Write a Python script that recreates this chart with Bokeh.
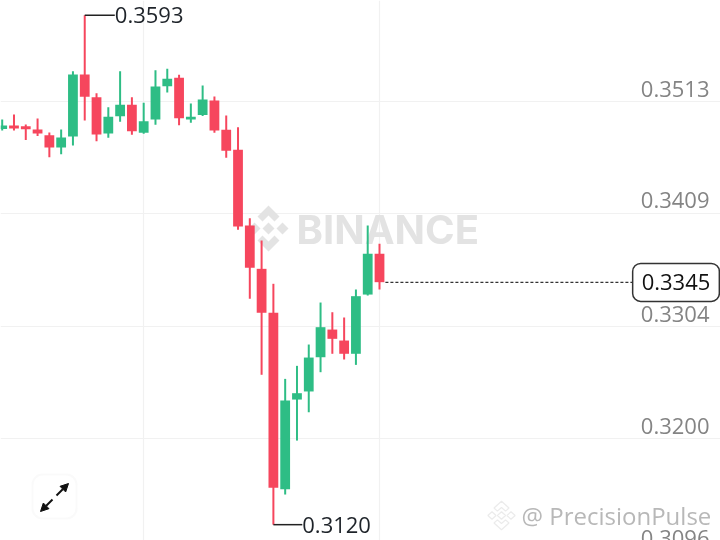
from bokeh.plotting import figure
from bokeh.models import (ColumnDataSource, FixedTicker, Label, BoxAnnotation, Arrow, NormalHead,
                          PolyAnnotation, Range1d)
from bokeh.core.properties import value
from bokeh.embed import file_html
from bokeh.resources import INLINE

opens = [.34875,.34907,.34901,.34870,.34817,.34703,.34805,.35381,.35170,.34833,.34994,.35099,.34839,.34963,.35272,.35350,.34963,.35005,.35139,.34867,.34681,.33978,.33576,.33168,.31530,.32362,.32437,.32755,.33012,.32910,.32787,.33337,.33715]
closes = [.34907,.34879,.34873,.34833,.34703,.34796,.35381,.35174,.34824,.34988,.35099,.34854,.34947,.35269,.35341,.34975,.34988,.35149,.34861,.34672,.33970,.33585,.33168,.31542,.32353,.32421,.32752,.33034,.32926,.32787,.33322,.33715,.33452]
highs = [.34963,.35009,.34916,.34972,.34842,.34870,.35411,.35930,.35207,.35077,.35411,.35170,.35118,.35421,.35434,.35378,.35111,.35279,.35176,.35000,.34891,.34046,.33839,.33437,.32554,.32675,.32873,.33263,.33173,.33124,.33384,.33978,.33808]
lows = [.34861,.34861,.34772,.34810,.34613,.34641,.34721,.34954,.34761,.34793,.34942,.34821,.34830,.34914,.35214,.34910,.34932,.34995,.34839,.34607,.33938,.33298,.32592,.31200,.31480,.31981,.32244,.32616,.32787,.32734,.32684,.33328,.33384]
tick_values = [.3513, .3409, .3304, .3200]
tick_labels = ["0.3513", "0.3409", "0.3304", "0.3200"]
vgrid_at = [12, 32]
last_price = .3345
hi_idx, hi_price, hi_label = 7, .3593, "0.3593"
lo_idx, lo_price, lo_label = 23, .3120, "0.3120"

GREEN, RED = "#2EBD85", "#F6465D"
FONT = "Open Sans"
W, H = 720, 540

p = figure(width=W, height=H, output_backend="svg", toolbar_location=None,
           x_range=Range1d(-0.144, 60.92), y_range=Range1d(.31053, .36068),
           min_border=0, background_fill_color="white", border_fill_color="white")
p.styles = {"position": "fixed", "left": "0", "top": "0"}
p.outline_line_color = None
p.xaxis.visible = False
p.yaxis.visible = False
p.ygrid.ticker = FixedTicker(ticks=tick_values + [.3096])
p.xgrid.ticker = FixedTicker(ticks=vgrid_at)
p.ygrid.grid_line_color = "#f1f1f1"
p.xgrid.grid_line_color = "#f1f1f1"
p.ygrid.grid_line_width = 1.2
p.xgrid.grid_line_width = 1.2

# logo shapes around a centre, half-width 20
logo = [
    ([0, 11, 6, 0, -6, -11], [-23, -12, -7, -13, -7, -12]),
    ([0, 11, 6, 0, -6, -11], [23, 12, 7, 13, 7, 12]),
    ([-20, -14, -8, -14], [0, -6, 0, 6]),
    ([8, 14, 20, 14], [0, -6, 0, 6]),
    ([0, 6, 0, -6], [-6, 0, 6, 0]),
]

# watermark, under the candles
for xs, ys in logo:
    p.add_layout(PolyAnnotation(xs=[268 + a for a in xs], ys=[228 + b for b in ys], xs_units="canvas",
                                ys_units="canvas", level="underlay",
                                fill_color="#e3e3e3", fill_alpha=1, line_color=None))
p.add_layout(Label(x=296, y=229, x_units="canvas", y_units="canvas", text="BINANCE", text_color="#e3e3e3",
                   text_font="Inter", text_font_style="bold", text_font_size="40px",
                   text_align="left", text_baseline="middle", level="underlay"))

idx = list(range(len(opens)))
colors = [GREEN if c >= o else RED for o, c in zip(opens, closes)]
src = ColumnDataSource(dict(x=idx, o=opens, c=closes, h=highs, l=lows, color=colors))
p.segment("x", "h", "x", "l", source=src, line_color="color", line_width=2)
p.vbar("x", 0.83, "o", "c", source=src, fill_color="color", line_color=None)

# tick labels
for v, t in zip(tick_values + [.3096], tick_labels + ["0.3096"]):
    p.add_layout(Label(x=709, y=v, x_units="canvas", y_units="data", y_offset=13, text=t, text_color="#848484",
                       text_font=FONT, text_font_size="22px", text_align="right", text_baseline="middle"))

# high / low leaders
p.segment([hi_idx], [hi_price], [hi_idx + 2.55], [hi_price], line_color="#222222", line_width=1.5)
p.segment([lo_idx], [lo_price], [lo_idx + 2.45], [lo_price], line_color="#222222", line_width=1.5)
p.text([hi_idx + 2.55], [hi_price], text=[hi_label], text_color="#1e2329", text_font=value(FONT),
       text_font_size="22px", text_align="left", text_baseline="middle")
p.text([lo_idx + 2.45], [lo_price], text=[lo_label], text_color="#1e2329", text_font=value(FONT),
       text_font_size="22px", text_align="left", text_baseline="middle")

# last price line and box
p.segment([32.5], [last_price], [53.45], [last_price], line_color="#333333", line_width=1.3, line_dash="3 2")
p.add_layout(Label(x=675.5, y=last_price, x_units="canvas", y_units="data", text="0.3345", text_color="#111111",
                   text_font=FONT, text_font_size="22px", text_align="center", text_baseline="middle",
                   background_fill_color="white", border_line_color="#333333", border_line_width=1.5,
                   border_radius=8, padding=(9, 11)))

# expand button
p.add_layout(BoxAnnotation(left=32, right=76, top=474, bottom=518, left_units="canvas", right_units="canvas",
                           top_units="canvas", bottom_units="canvas", fill_color="white", fill_alpha=1,
                           line_color="#ededed", line_width=2, border_radius=10, level="annotation"))
for (a, b, c, d) in [(56, 495, 68, 483), (52, 499, 40, 511)]:
    p.add_layout(Arrow(x_start=a, y_start=b, x_end=c, y_end=d, start_units="canvas", end_units="canvas",
                       line_color="#111111", line_width=2,
                       end=NormalHead(size=8, fill_color="#111111", line_color="#111111")))

# bottom watermark
for xs, ys in logo:
    p.add_layout(PolyAnnotation(xs=[501 + a * 0.68 for a in xs], ys=[515 + b * 0.62 for b in ys], xs_units="canvas",
                                ys_units="canvas", fill_color="#ffffff", fill_alpha=0.9,
                                line_color="#bdbdbd", line_width=1.2))
p.add_layout(Label(x=521, y=515, x_units="canvas", y_units="canvas", text="@ PrecisionPulse", text_color="#b8b8b8",
                   text_font=FONT, text_font_size="24px", text_align="left", text_baseline="middle"))

open("out.html", "w").write(file_html(p, INLINE))
